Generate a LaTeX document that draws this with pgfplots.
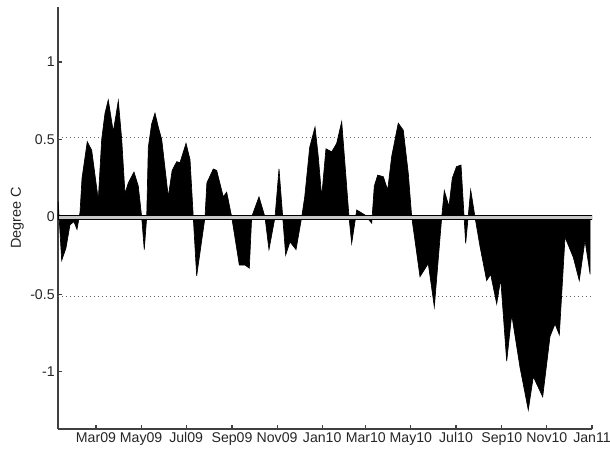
\documentclass[border=0pt]{standalone}
\usepackage{pgfplots}
\pgfplotsset{compat=1.18}
\usepackage{fontspec}
\setmainfont{Liberation Sans}
\begin{document}
\begin{tikzpicture}
\begin{axis}[
  scale only axis, width=400.5pt, height=316.5pt,
  xmin=7.6, xmax=730, ymin=-1.368, ymax=1.355,
  axis x line=bottom, axis y line=left,
  axis line style={-, black!75, line width=0.8pt},
  xtick={59,120,181,243,304,365,424,485,546,608,669,730},
  xticklabels={Mar09,May09,Jul09,Sep09,Nov09,Jan10,Mar10,May10,Jul10,Sep10,Nov10,Jan11},
  ytick={-1,-0.5,0,0.5,1}, yticklabels={-1,-0.5,0,0.5,1},
  tick align=inside, major tick length=3pt,
  tick style={black!75, line width=0.8pt},
  ticklabel style={font=\fontsize{10.6}{12}\selectfont, text=black!85},
  xticklabel style={yshift=1pt},
  yticklabel style={xshift=1pt},
  ylabel={Degree C}, ylabel style={font=\fontsize{10.8}{12}\selectfont, text=black!85, yshift=-2pt},
]
\addplot[draw=black!60, line width=0.6pt, dash pattern=on 0.8pt off 2.2pt] coordinates {(7.6,0.515) (730,0.515)};
\addplot[draw=black!60, line width=0.6pt, dash pattern=on 0.8pt off 2.2pt] coordinates {(7.6,-0.515) (730,-0.515)};
\addplot[fill=black, draw=black, line width=0.5pt] coordinates {
(7.8,0.10) (12.6,-0.28) (18.4,-0.20) (23.8,-0.05) (29.2,-0.03) (33.3,-0.08) (37.4,0.03) (40.1,0.25)
(47.2,0.486) (53.2,0.43) (62.1,0.11) (66.7,0.50) (71.2,0.67) (75.6,0.755) (82.4,0.55) (89.2,0.75) (93.8,0.50) (98.2,0.15)
(102.7,0.22) (110.4,0.29) (116.2,0.20)
(120.8,0.0) (124.3,-0.21) (127.6,0.0) (129.8,0.45) (134.3,0.60) (138.8,0.67) (143.3,0.58) (147.9,0.50) (156.8,0.13) (162,0.30) (168.2,0.357) (172.6,0.35)
(180.8,0.475) (186.2,0.37) (190.6,0.0) (195.2,-0.38) (206.5,0.0) (209,0.22) (217.7,0.31) (222.3,0.30) (231.2,0.13)
(235.8,0.16) (242.6,0.0) (252.9,-0.31) (260.6,-0.31) (266.4,-0.33) (269.6,0.0) (279.5,0.13) (287.6,0.0)
(293.0,-0.21) (301.2,0.0) (306.6,0.31) (311.6,0.0) (315.6,-0.245) (321.4,-0.16) (329.6,-0.21) (337.3,0.0)
(341.4,0.13) (348.1,0.45) (355.3,0.58) (359.7,0.39) (364.3,0.13) (370.1,0.44) (377.9,0.42) (384.6,0.475) (391.4,0.615) (401.3,0.0) (404.9,-0.17)
(411.7,0.045) (422.9,0.013) (432.0,-0.04) (435.5,0.20) (440.1,0.27) (447.7,0.26) (453.6,0.174) (459,0.39) (467.9,0.605)
(474.7,0.56) (481.5,0.28) (486.1,0.0) (490.5,-0.15) (497.3,-0.385) (508.5,-0.30) (516.7,-0.58) (526.7,0.0) (530.2,0.17) (536.5,0.067)
(541,0.25) (546.7,0.325) (552.8,0.335) (559.1,-0.17) (565.9,0.174) (571.7,0.0) (578.5,-0.19) (587.5,-0.41) (592.9,-0.37)
(601.1,-0.56) (606.5,-0.40) (614.6,-0.93) (621.4,-0.63) (632.6,-0.97) (643.8,-1.245) (650.6,-1.03) (663.3,-1.16)
(673.2,-0.77) (680.0,-0.69) (685.8,-0.76) (693.5,-0.13) (704.7,-0.26) (712.8,-0.41) (720.5,-0.15) (727.5,-0.37)
} \closedcycle;
\addplot[fill=black!22, draw=black, line width=0.4pt] coordinates {(7.6,0.012) (730,0.012) (730,-0.016) (7.6,-0.016)} -- cycle;
\coordinate (ll) at (rel axis cs:0,0);
\coordinate (ur) at (rel axis cs:1,1);
\end{axis}
\pgfresetboundingbox
\path ([xshift=-43.5pt,yshift=-15pt]ll) rectangle ([xshift=13.5pt,yshift=5.25pt]ur);
\end{tikzpicture}
\end{document}
